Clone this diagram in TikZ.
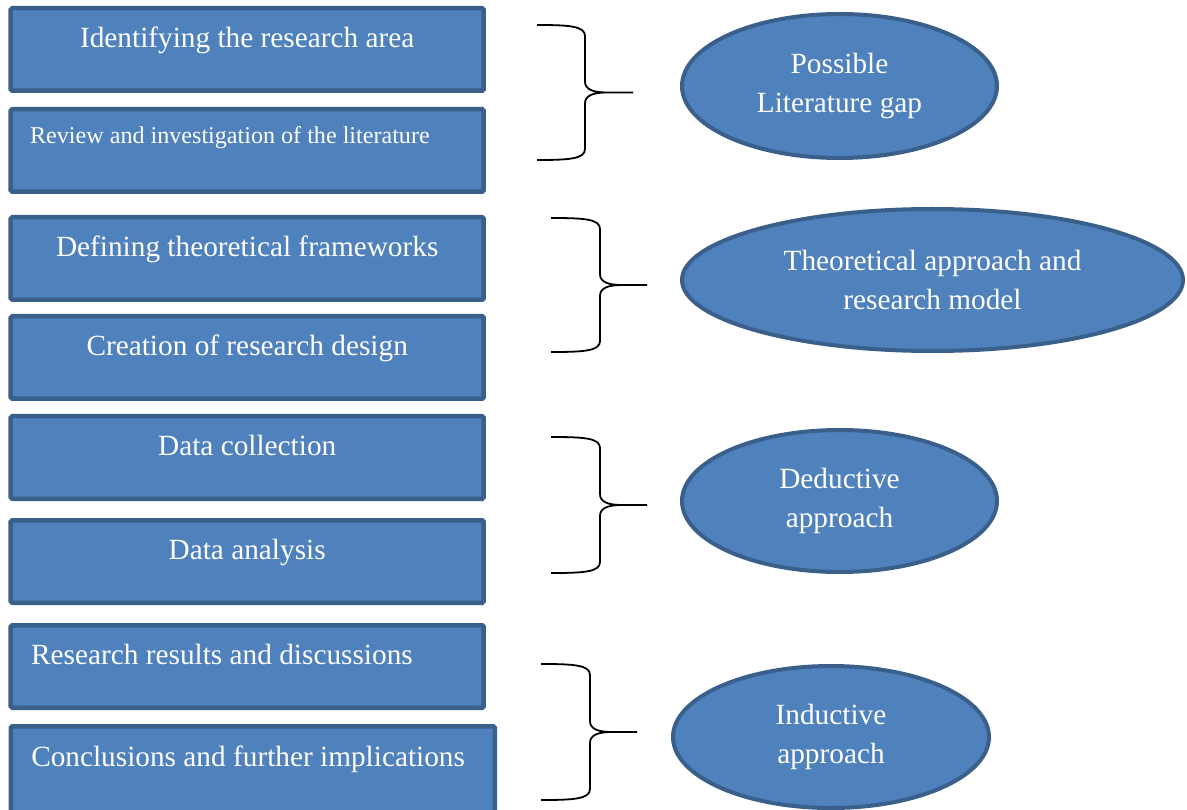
\documentclass[tikz,border=0pt]{standalone}
\usepackage{fontspec}
\setmainfont{Liberation Serif}
\usetikzlibrary{shapes.geometric}
\definecolor{stagefill}{HTML}{4F81BD}
\definecolor{stageline}{HTML}{3A5F8B}

% right curly brace: left x, top y, bottom y, spine x, tip x
\newcommand\curlybrace[5]{%
  \pgfmathsetmacro\bracemid{(#2+#3)/2}%
  \draw[bracestyle]
    (#1,#2) .. controls (#4-16,#2) and (#4,#2+1) .. (#4,#2+11)
    -- (#4,\bracemid-11) .. controls (#4,\bracemid-3) and (#4+8,\bracemid) .. (#4+22,\bracemid)
    -- (#5,\bracemid)
    (#4+22,\bracemid) .. controls (#4+8,\bracemid) and (#4,\bracemid+3) .. (#4,\bracemid+11)
    -- (#4,#3-11) .. controls (#4,#3-1) and (#4-16,#3) .. (#1,#3);
}

\begin{document}
\begin{tikzpicture}[x=1pt,y=-1pt,
  stage/.style={draw=stageline, fill=stagefill, line width=4.5pt,
    rounded corners=1.5pt, minimum width=473pt, minimum height=82.5pt,
    inner sep=0pt},
  stagetext/.style={text=white, font=\fontsize{29.3}{35}\selectfont, inner sep=0pt},
  smalltext/.style={text=white, font=\fontsize{24.1}{29}\selectfont, inner sep=0pt},
  outcome/.style={ellipse, draw=stageline, fill=stagefill, line width=4pt,
    inner sep=0pt, text=white, align=center,
    font=\fontsize{29.3}{39}\selectfont},
  bracestyle/.style={draw=black, line width=1.8pt}
]
\useasboundingbox (0,0) rectangle (1187,810);

% process stages
\node[stage] (s1) at (247.2,49.5)  {};
\node[stage] (s2) at (247.2,150.5) {};
\node[stage] (s3) at (247.2,258.5) {};
\node[stage] (s4) at (247.2,357.5) {};
\node[stage] (s5) at (247.2,457.5) {};
\node[stage] (s6) at (247.2,561.5) {};
\node[stage] (s7) at (247.2,666.5) {};
\node[stage, minimum width=484pt, minimum height=86.5pt] (s8) at (252.8,769.5) {};

\node[stagetext, anchor=base] (t1) at ([yshift=-41.5pt]s1.north) {Identifying the research area};
\node[smalltext, anchor=base west] (t2) at ([xshift=21.5pt, yshift=-36.5pt]s2.north west) {Review and investigation of the literature};
\node[stagetext, anchor=base] (t3) at ([yshift=-41.5pt]s3.north) {Defining theoretical frameworks};
\node[stagetext, anchor=base] (t4) at ([yshift=-41.5pt]s4.north) {Creation of research design};
\node[stagetext, anchor=base] (t5) at ([yshift=-41.5pt]s5.north) {Data collection};
\node[stagetext, anchor=base] (t6) at ([yshift=-41.5pt]s6.north) {Data analysis};
\node[stagetext, anchor=base west] (t7) at ([xshift=22.5pt, yshift=-41.5pt]s7.north west) {Research results and discussions};
\node[stagetext, anchor=base west] (t8) at ([xshift=22.5pt, yshift=-42.5pt]s8.north west) {Conclusions and further implications};

% braces grouping the stages
\curlybrace{537}{25}{160}{585}{633}
\curlybrace{551}{218}{352}{600}{647}
\curlybrace{551}{437}{573}{600}{647}
\curlybrace{541}{664}{800}{590}{637}

% outcomes
\node[outcome, minimum width=315pt, minimum height=144pt] (o1) at (839.5,86) {Possible\\Literature gap};
\node[outcome, minimum width=501pt, minimum height=142pt] (o2) at (932.5,280) {Theoretical approach and\\research model};
\node[outcome, minimum width=315pt, minimum height=142pt] (o3) at (839.5,501) {Deductive\\approach};
\node[outcome, minimum width=316pt, minimum height=142pt] (o4) at (831,737) {Inductive\\approach};
\end{tikzpicture}
\end{document}
